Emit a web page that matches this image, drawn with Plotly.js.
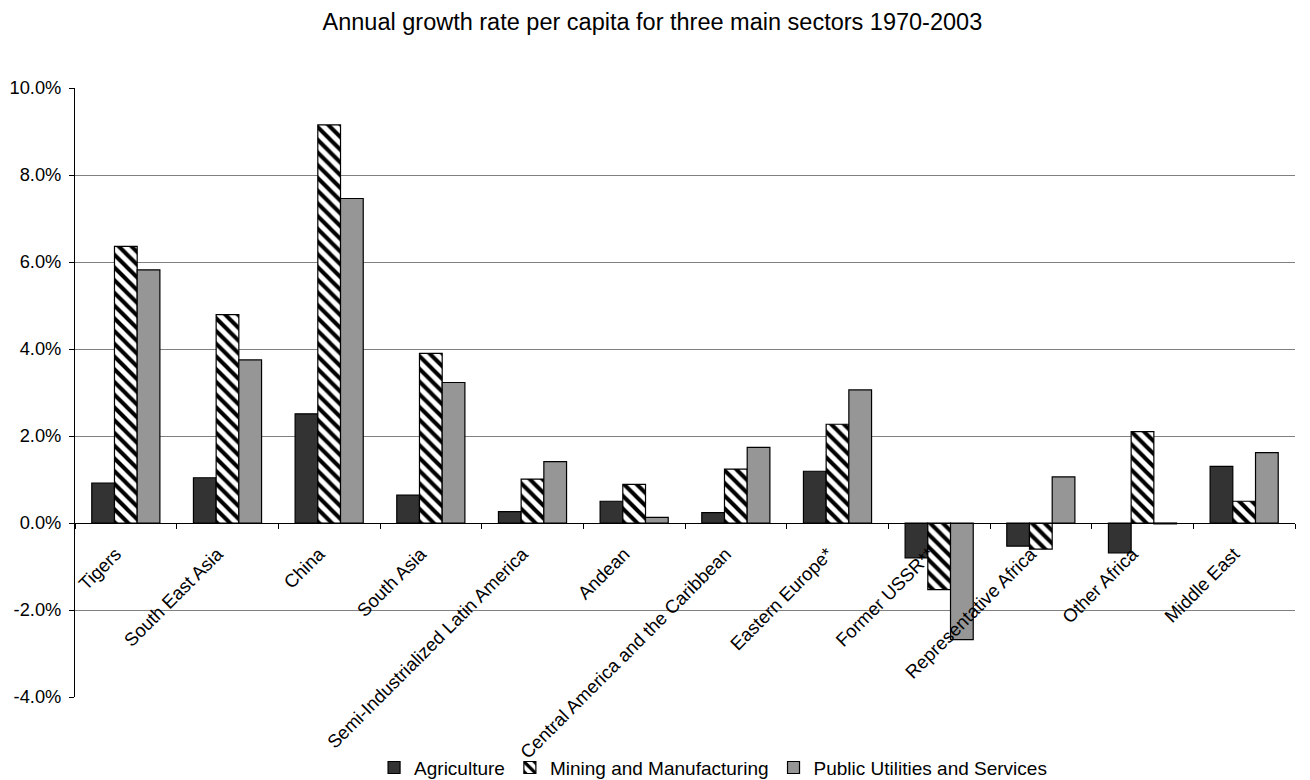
<!DOCTYPE html>
<html>
<head>
<meta charset="utf-8">
<script src="https://cdn.plot.ly/plotly-3.0.1.min.js"></script>
<style>
  html, body { margin: 0; padding: 0; background: #fff; }
  #chart { width: 1310px; height: 780px; }
</style>
</head>
<body>
<div id="chart"></div>
<script>
// Regions, in the order they are plotted
const regions = [
  "Tigers", "South East Asia", "China", "South Asia",
  "Semi-Industrialized Latin America", "Andean",
  "Central America and the Caribbean", "Eastern Europe*",
  "Former USSR**", "Representative Africa", "Other Africa", "Middle East"
];

// Annual growth rate per capita, percent, 1970-2003
const agriculture = [0.92, 1.04, 2.51, 0.64, 0.26, 0.50, 0.24, 1.19, -0.80, -0.53, -0.69, 1.30];
const miningManufacturing = [6.36, 4.79, 9.15, 3.90, 1.01, 0.89, 1.24, 2.27, -1.53, -0.60, 2.10, 0.50];
const utilitiesServices = [5.82, 3.75, 7.46, 3.23, 1.41, 0.13, 1.74, 3.06, -2.68, 1.06, -0.02, 1.62];

const yTicks = [-4, -2, 0, 2, 4, 6, 8, 10];
const yRange = [-4, 10];

const family = "Liberation Sans, Arial, sans-serif";
const outline = { color: "#000", width: 1.2 };

const traces = [
  {
    type: "bar", name: "Agriculture", x: regions, y: agriculture,
    marker: { color: "#333333", line: outline }
  },
  {
    type: "bar", name: "Mining and Manufacturing", x: regions, y: miningManufacturing,
    marker: {
      color: "#ffffff", line: outline,
      pattern: { shape: "\\", fgcolor: "#000", bgcolor: "#fff", size: 9, solidity: 0.45, fillmode: "replace" }
    }
  },
  {
    type: "bar", name: "Public Utilities and Services", x: regions, y: utilitiesServices,
    marker: { color: "#969696", line: outline }
  }
];

// the category axis runs along the zero line
const zeroPos = (0 - yRange[0]) / (yRange[1] - yRange[0]);

const layout = {
  width: 1310, height: 780,
  paper_bgcolor: "#fff", plot_bgcolor: "#fff",
  font: { family: family, size: 18, color: "#000" },
  title: {
    text: "Annual growth rate per capita for three main sectors 1970-2003",
    font: { family: family, size: 23.5, color: "#000" },
    x: 0.498, xanchor: "center", y: 0.972, yanchor: "middle"
  },
  margin: { l: 75, r: 15, t: 88, b: 83, autoexpand: false },
  barmode: "group",
  bargap: 0.33,
  bargroupgap: 0,
  showlegend: true,
  legend: {
    orientation: "h", x: 0.523, xanchor: "center", y: -0.116, yanchor: "middle",
    bgcolor: "rgba(0,0,0,0)",
    font: { family: family, size: 19, color: "#000" },
    traceorder: "normal"
  },
  xaxis: {
    type: "category",
    anchor: "free", position: zeroPos,
    showline: true, linecolor: "#000", linewidth: 1,
    ticks: "outside", tickson: "boundaries", ticklen: 5, tickcolor: "#000",
    tickangle: -45,
    ticklabelstandoff: 12,
    ticklabelshift: -10,
    tickfont: { family: family, size: 18.5, color: "#000" },
    showgrid: false, zeroline: false,
    automargin: false,
    fixedrange: true
  },
  yaxis: {
    range: yRange,
    tickvals: yTicks,
    ticktext: yTicks.map(v => v.toFixed(1) + "%"),
    showline: true, linecolor: "#000", linewidth: 1,
    ticks: "outside", ticklen: 5, tickcolor: "#000",
    ticklabelstandoff: 4,
    showgrid: true, gridcolor: "#808080", gridwidth: 1,
    zeroline: false,
    automargin: false,
    tickfont: { family: family, size: 18.3, color: "#000" },
    fixedrange: true
  }
};

Plotly.newPlot("chart", traces, layout, { staticPlot: true, displayModeBar: false });
</script>
</body>
</html>
